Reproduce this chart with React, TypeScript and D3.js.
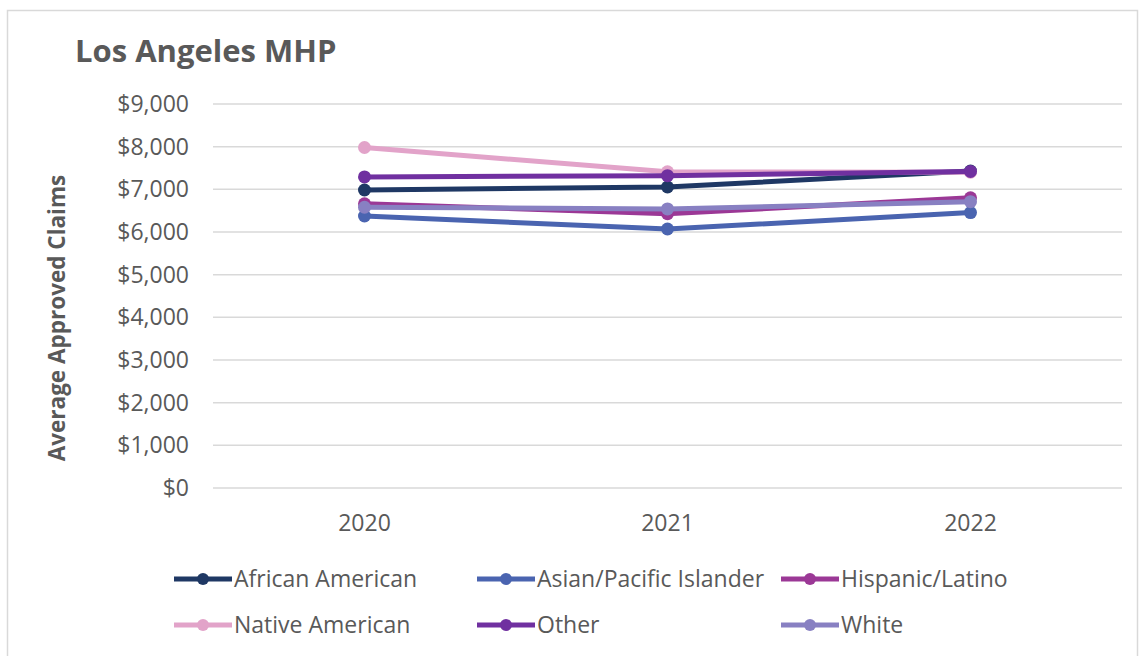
import React from "react";
import * as d3 from "d3";

const years = ["2020", "2021", "2022"];
const seriesNames = ["African American", "Asian/Pacific Islander", "Hispanic/Latino", "Native American", "Other", "White"];
const africanAmerican = [6985, 7055, 7430];
const asianPacific = [6375, 6070, 6455];
const hispanicLatino = [6660, 6430, 6800];
const nativeAmerican = [7980, 7410, 7400];
const other = [7290, 7320, 7420];
const white = [6580, 6540, 6710];
const seriesValues = [africanAmerican, asianPacific, hispanicLatino, nativeAmerican, other, white];
const colors = ["#1f3864", "#4a64b0", "#9b3896", "#e2a3c9", "#7030a0", "#8880c2"];
const yTicks = [0, 1000, 2000, 3000, 4000, 5000, 6000, 7000, 8000, 9000];

const FONT = "'Open Sans', sans-serif";

export default function App() {
  const W = 1145, H = 656;
  const left = 213, right = 1122, top = 104, bottom = 488;
  const x = d3.scaleBand<string>().domain(years).range([left, right]);
  const y = d3.scaleLinear().domain([0, 9000]).range([bottom, top]);
  const fmt = (v: number) => "$" + d3.format(",")(v);
  const line = d3.line<number>().x((_, i) => (x(years[i]) as number) + x.bandwidth() / 2).y((d) => y(d));
  const legendPos = [
    [174, 579], [477, 579], [781, 579],
    [174, 625], [477, 625], [781, 625],
  ];
  return (
    <svg width={W} height={H} style={{ position: "absolute", left: 0, top: 0, background: "#fff" }}>
      <rect x={7.5} y={10.5} width={1130} height={660} fill="#fff" stroke="#d9d9d9" strokeWidth={1.5} />
      <text x={75} y={62} fontFamily={FONT} fontSize={31} fontWeight="bold" fill="#595959">Los Angeles MHP</text>
      {yTicks.map((t) => (
        <g key={t}>
          <line x1={left} x2={right} y1={y(t)} y2={y(t)} stroke="#d9d9d9" strokeWidth={1.5} />
          <text x={189} y={y(t)} dy="0.35em" textAnchor="end" fontFamily={FONT} fontSize={23} fill="#595959">{fmt(t)}</text>
        </g>
      ))}
      {years.map((yr) => (
        <text key={yr} x={(x(yr) as number) + x.bandwidth() / 2} y={531} textAnchor="middle" fontFamily={FONT} fontSize={23} fill="#595959">{yr}</text>
      ))}
      <text transform={`translate(65,${(top + bottom) / 2 + 22}) rotate(-90)`} textAnchor="middle" fontFamily={FONT} fontSize={22.5} fontWeight="bold" fill="#595959">Average Approved Claims</text>
      {seriesValues.map((vals, si) => (
        <g key={si}>
          <path d={line(vals) || ""} fill="none" stroke={colors[si]} strokeWidth={5} strokeLinejoin="round" strokeLinecap="round" />
          {vals.map((v, i) => (
            <circle key={i} cx={(x(years[i]) as number) + x.bandwidth() / 2} cy={y(v)} r={6.5} fill={colors[si]} />
          ))}
        </g>
      ))}
      {seriesNames.map((n, i) => {
        const [lx, ly] = legendPos[i];
        return (
          <g key={n}>
            <line x1={lx} x2={lx + 58} y1={ly} y2={ly} stroke={colors[i]} strokeWidth={5} />
            <circle cx={lx + 29} cy={ly} r={6} fill={colors[i]} />
            <text x={lx + 60} y={ly} dy="0.35em" fontFamily={FONT} fontSize={23} fill="#595959">{n}</text>
          </g>
        );
      })}
    </svg>
  );
}
